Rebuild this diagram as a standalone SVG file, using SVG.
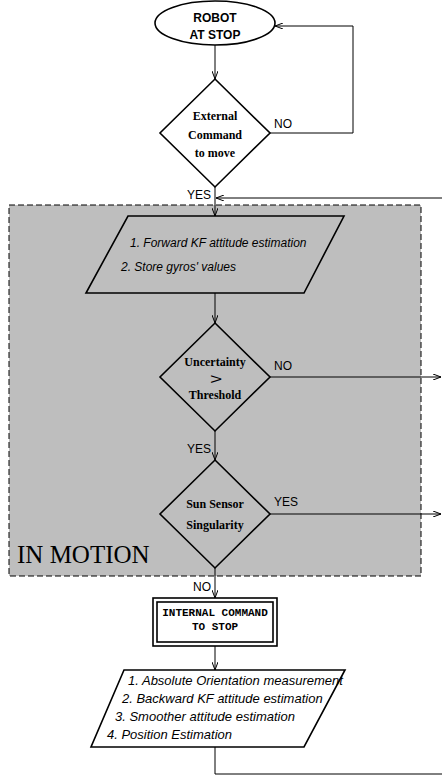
<svg xmlns="http://www.w3.org/2000/svg" width="442" height="778" viewBox="0 0 442 778">
<defs>
<marker id="arr" viewBox="0 0 8 6" refX="8" refY="3" markerWidth="8" markerHeight="6" markerUnits="userSpaceOnUse" orient="auto">
<path d="M0,0 L8,3 L0,6" fill="none" stroke="#000" stroke-width="1"/>
</marker>
<style>
.shape{fill:none;stroke:#000;stroke-width:1.6}
.conn{fill:none;stroke:#000;stroke-width:1}
.sans{font-family:"Liberation Sans",Arial,sans-serif;font-size:12px;fill:#000}
.sansb{font-family:"Liberation Sans",Arial,sans-serif;font-size:12px;font-weight:bold;fill:#000}
.ital{font-family:"Liberation Sans",Arial,sans-serif;font-size:12px;font-style:italic;fill:#000}
.ital13{font-family:"Liberation Sans",Arial,sans-serif;font-size:13px;font-style:italic;fill:#000}
.serifb{font-family:"Liberation Serif","Times New Roman",serif;font-size:12px;font-weight:bold;fill:#000}
.mono{font-family:"Liberation Mono","Courier New",monospace;font-size:11px;font-weight:bold;fill:#000}
</style>
</defs>
<rect width="442" height="778" fill="#fff"/>

<g id="in-motion">
<rect x="9" y="205" width="412" height="371" fill="#bebebe" stroke="#000" stroke-width="1" stroke-dasharray="6,3"/>
<text x="17" y="563" font-family="'Liberation Serif','Times New Roman',serif" font-size="25" fill="#000">IN MOTION</text>
</g>

<g id="connectors">
<line class="conn" x1="215" y1="45" x2="215" y2="79" marker-end="url(#arr)"/>
<polyline class="conn" points="270,133 353,133 353,26 275,26" marker-end="url(#arr)"/>
<line class="conn" x1="215" y1="187" x2="215" y2="216" marker-end="url(#arr)"/>
<line class="conn" x1="442" y1="198" x2="216" y2="198" marker-end="url(#arr)"/>
<line class="conn" x1="215" y1="293" x2="215" y2="323" marker-end="url(#arr)"/>
<line class="conn" x1="270" y1="377" x2="441" y2="377" marker-end="url(#arr)"/>
<line class="conn" x1="215" y1="431" x2="215" y2="460" marker-end="url(#arr)"/>
<line class="conn" x1="270" y1="514" x2="441" y2="514" marker-end="url(#arr)"/>
<line class="conn" x1="215" y1="568" x2="215" y2="598" marker-end="url(#arr)"/>
<line class="conn" x1="215" y1="646" x2="215" y2="670" marker-end="url(#arr)"/>
<polyline class="conn" points="215,747 215,774 442,774"/>
<text class="sans" x="274" y="128">NO</text>
<text class="sans" x="187" y="199">YES</text>
<text class="sans" x="274" y="370">NO</text>
<text class="sans" x="187" y="453">YES</text>
<text class="sans" x="274" y="506">YES</text>
<text class="sans" x="193" y="591">NO</text>
</g>

<g id="robot-at-stop">
<ellipse class="shape" cx="215" cy="23" rx="60" ry="22" fill="#fff"/>
<text class="sansb" x="215" y="22" text-anchor="middle">ROBOT</text>
<text class="sansb" x="215" y="39" text-anchor="middle">AT STOP</text>
</g>

<g id="external-command">
<polygon class="shape" points="215,79 270,133 215,187 160,133" fill="#fff"/>
<text class="serifb" x="215" y="120" text-anchor="middle">External</text>
<text class="serifb" x="215" y="139" text-anchor="middle">Command</text>
<text class="serifb" x="215" y="157" text-anchor="middle">to move</text>
</g>

<g id="forward-kf">
<polygon class="shape" points="128,216 344,216 304,293 86,293"/>
<text class="ital" x="130" y="247">1. Forward KF attitude estimation</text>
<text class="ital" x="121" y="271">2. Store gyros' values</text>
</g>

<g id="uncertainty">
<polygon class="shape" points="215,323 270,377 215,431 160,377"/>
<text class="serifb" x="215" y="366" text-anchor="middle">Uncertainty</text>
<text transform="translate(216,384) scale(1.5,1)" x="0" y="0" text-anchor="middle" font-family="'Liberation Sans',Arial,sans-serif" font-size="14" fill="#000">&gt;</text>
<text class="serifb" x="215" y="399" text-anchor="middle">Threshold</text>
</g>

<g id="sun-sensor">
<polygon class="shape" points="215,460 270,514 215,568 160,514"/>
<text class="serifb" x="215" y="508" text-anchor="middle">Sun Sensor</text>
<text class="serifb" x="215" y="529" text-anchor="middle">Singularity</text>
</g>

<g id="internal-stop">
<rect x="153" y="598" width="124" height="48" fill="#fff" stroke="#000" stroke-width="1.6"/>
<rect x="157" y="602" width="116" height="40" fill="none" stroke="#000" stroke-width="1.6"/>
<text class="mono" x="215" y="616" text-anchor="middle">INTERNAL COMMAND</text>
<text class="mono" x="215" y="630" text-anchor="middle">TO STOP</text>
</g>

<g id="smoother">
<polygon class="shape" points="124,670 345,670 304,747 91,747" fill="#fff"/>
<text class="ital13" x="128" y="685">1. Absolute Orientation measurement</text>
<text class="ital13" x="122" y="703">2. Backward KF attitude estimation</text>
<text class="ital13" x="115" y="721">3. Smoother attitude estimation</text>
<text class="ital13" x="107" y="739">4. Position Estimation</text>
</g>
</svg>
